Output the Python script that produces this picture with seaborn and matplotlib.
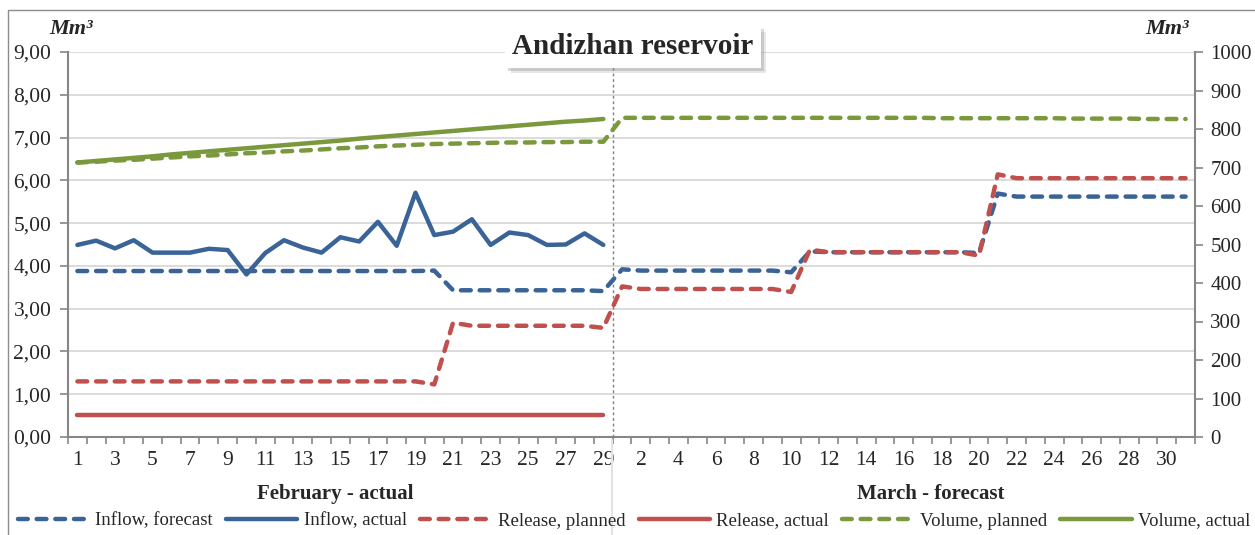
import numpy as np
import matplotlib
matplotlib.use("Agg")
import matplotlib.pyplot as plt
import matplotlib.patheffects as pe
from matplotlib.lines import Line2D
from matplotlib.patches import Rectangle
from matplotlib.ticker import FuncFormatter
import seaborn as sns

# Colours (Excel-like theme)
BLUE = '#3A6397'
RED = '#C0504D'
GREEN = '#7A983C'
AXIS_GRAY = '#868686'
GRID_GRAY = '#D9D9D9'

# Days of the two months
feb_days = list(range(1, 30))
mar_days = list(range(1, 32))

# Left axis (flows), Feb 1 .. Mar 31
inflow_forecast = [
    3.88, 3.88, 3.88, 3.88, 3.88, 3.88, 3.88, 3.88, 3.88, 3.88,
    3.88, 3.88, 3.88, 3.88, 3.88, 3.88, 3.88, 3.88, 3.88, 3.89,
    3.43, 3.43, 3.43, 3.43, 3.43, 3.43, 3.43, 3.43, 3.41,
    3.92, 3.89, 3.89, 3.89, 3.89, 3.89, 3.89, 3.89, 3.89, 3.85,
    4.34, 4.32, 4.32, 4.32, 4.32, 4.32, 4.32, 4.32, 4.32, 4.30,
    5.69, 5.62, 5.62, 5.62, 5.62, 5.62, 5.62, 5.62, 5.62, 5.62, 5.62,
]
inflow_actual = [
    4.49, 4.59, 4.41, 4.60, 4.31, 4.31, 4.31, 4.40, 4.37, 3.80,
    4.30, 4.60, 4.43, 4.31, 4.67, 4.57, 5.03, 4.47, 5.71, 4.72,
    4.80, 5.09, 4.49, 4.78, 4.72, 4.49, 4.50, 4.76, 4.49,
]
release_planned = [
    1.30, 1.30, 1.30, 1.30, 1.30, 1.30, 1.30, 1.30, 1.30, 1.30,
    1.30, 1.30, 1.30, 1.30, 1.30, 1.30, 1.30, 1.30, 1.30, 1.23,
    2.67, 2.60, 2.60, 2.60, 2.60, 2.60, 2.60, 2.60, 2.55,
    3.52, 3.46, 3.46, 3.46, 3.46, 3.46, 3.46, 3.46, 3.46, 3.39,
    4.38, 4.32, 4.32, 4.32, 4.32, 4.32, 4.32, 4.32, 4.32, 4.24,
    6.14, 6.05, 6.05, 6.05, 6.05, 6.05, 6.05, 6.05, 6.05, 6.05, 6.05,
]
release_actual = [
    0.51, 0.51, 0.51, 0.51, 0.51, 0.51, 0.51, 0.51, 0.51, 0.51,
    0.51, 0.51, 0.51, 0.51, 0.51, 0.51, 0.51, 0.51, 0.51, 0.51,
    0.51, 0.51, 0.51, 0.51, 0.51, 0.51, 0.51, 0.51, 0.51,
]

# Right axis (volume)
volume_planned = [
    713, 715, 718, 720, 723, 726, 729, 731, 734, 737,
    739, 742, 744, 747, 750, 752, 755, 757, 759, 761,
    762, 763, 764, 765, 765, 766, 766, 767, 767,
    829, 829, 829, 829, 829, 829, 829, 829, 829, 829,
    829, 829, 829, 829, 829, 829, 829, 828, 828, 828,
    828, 828, 828, 828, 827, 827, 827, 827, 826, 826, 826,
]
volume_actual = [
    713, 717, 721, 725, 729, 734, 738, 742, 746, 750,
    754, 758, 762, 766, 770, 775, 779, 783, 787, 791,
    795, 799, 803, 807, 811, 815, 819, 822, 826,
]

sns.set_theme(style='white')
plt.rcParams['font.family'] = ['Liberation Serif', 'DejaVu Serif']

day_labels = feb_days + mar_days
x_all = np.arange(len(day_labels))
x_feb = x_all[:len(feb_days)]

W, H = 1255, 535
fig, ax = plt.subplots(figsize=(W / 100, H / 100), dpi=100)
fig.subplots_adjust(left=68 / W, right=1195 / W, bottom=1 - 437 / H, top=1 - 52 / H)
ax2 = ax.twinx()

LW = 3.2
DASH = [2.2, 2.0]


def draw(axis, x, y, color, dashed):
    sns.lineplot(x=x, y=y, ax=axis, color=color, linewidth=LW, legend=False)
    line = axis.lines[-1]
    line.set_solid_capstyle('round')
    if dashed:
        line.set_dashes(DASH)
        line.set_dash_capstyle('round')
    return line


h_inf_fc = draw(ax, x_all, inflow_forecast, BLUE, True)
h_inf_ac = draw(ax, x_feb, inflow_actual, BLUE, False)
h_rel_pl = draw(ax, x_all, release_planned, RED, True)
h_rel_ac = draw(ax, x_feb, release_actual, RED, False)
h_vol_pl = draw(ax2, x_all, volume_planned, GREEN, True)
h_vol_ac = draw(ax2, x_feb, volume_actual, GREEN, False)

# Split between actual and forecast
ax.axvline(len(feb_days) - 0.5, color='#7F7F7F', lw=1, ls=(0, (2, 2)), zorder=1)

# Axes limits and ticks
ax.set_xlim(-0.5, len(day_labels) - 0.5)
ax.set_ylim(0, 9)
ax2.set_ylim(0, 1000)

tick_pos = [i for i in x_all if i % 2 == 0]
ax.set_xticks(tick_pos)
ax.set_xticklabels([str(day_labels[i]) for i in tick_pos])
ax.set_xticks(np.arange(-0.5, len(day_labels), 1), minor=True)
ax.set_yticks(range(0, 10))
ax.yaxis.set_major_formatter(FuncFormatter(lambda v, p: f'{v:.2f}'.replace('.', ',')))
ax2.set_yticks(range(0, 1001, 100))

ax.tick_params(axis='x', which='major', length=0, labelsize=15.5, pad=10, bottom=True)
ax.tick_params(axis='x', which='minor', length=5, width=1.2, color=AXIS_GRAY, bottom=True)
ax.tick_params(axis='y', which='major', length=6, width=1.2, color=AXIS_GRAY,
               labelsize=15.5, pad=6, left=True)
ax2.tick_params(axis='y', which='major', length=6, width=1.2, color=AXIS_GRAY,
                labelsize=15, pad=5, right=True)

ax.set_xlabel('')
ax.set_ylabel('')
ax2.set_ylabel('')

for a in (ax, ax2):
    for s in a.spines.values():
        s.set_color(AXIS_GRAY)
        s.set_linewidth(1.5)
    a.spines['top'].set_visible(False)
ax.spines['right'].set_visible(False)
ax2.spines['left'].set_visible(False)
ax2.spines['bottom'].set_visible(False)

ax.yaxis.grid(True, color=GRID_GRAY, lw=1.3)
ax.xaxis.grid(False)
ax2.grid(False)
ax.set_axisbelow(True)

# Title box with soft shadow
title = fig.text(633 / W, 1 - 47 / H, 'Andizhan reservoir', ha='center', va='center',
                 fontsize=21, fontweight='bold', zorder=10,
                 bbox=dict(boxstyle='square,pad=0.25', fc='white', ec='none'))
title.get_bbox_patch().set_path_effects([
    pe.SimplePatchShadow(offset=(4, -4), shadow_rgbFace='#A0A0A0', alpha=0.25),
    pe.SimplePatchShadow(offset=(2, -2), shadow_rgbFace='#909090', alpha=0.35),
    pe.Normal(),
])

# Units
fig.text(71 / W, 1 - 29 / H, 'Mm³', ha='center', va='center', fontsize=16,
         fontweight='bold', fontstyle='italic')
fig.text(1167 / W, 1 - 29 / H, 'Mm³', ha='center', va='center', fontsize=16,
         fontweight='bold', fontstyle='italic')

# Month captions
fig.text(335 / W, 1 - 494 / H, 'February - actual', ha='center', va='center',
         fontsize=15, fontweight='bold')
fig.text(931 / W, 1 - 494 / H, 'March - forecast', ha='center', va='center',
         fontsize=15, fontweight='bold')

# Faint continuation of the split line below the axis
fig.add_artist(Line2D([612 / W, 612 / W], [0, 1 - 440 / H], color='#E3E3E3', lw=1.5))

# Outer frame
fig.add_artist(Rectangle((8 / W, -0.05), 1.2, (H - 10) / H + 0.05,
                         transform=fig.transFigure, fill=False, ec='#8C8C8C', lw=1))

# Legend
handles = [h_inf_fc, h_inf_ac, h_rel_pl, h_rel_ac, h_vol_pl, h_vol_ac]
labels = ['Inflow, forecast', 'Inflow, actual', 'Release, planned',
          'Release, actual', 'Volume, planned', 'Volume, actual']
fig.legend(handles, labels, loc='center', bbox_to_anchor=(634 / W, 1 - 521 / H),
           ncol=6, frameon=False, fontsize=13.5, handlelength=3.8,
           handletextpad=0.35, columnspacing=0.7, borderaxespad=0)

fig.savefig('out.png', dpi=100)
